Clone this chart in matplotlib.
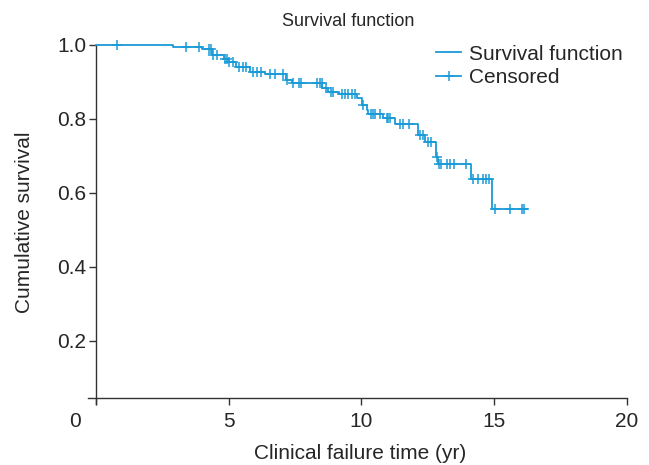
import numpy as np
import matplotlib
matplotlib.use("Agg")
import matplotlib.pyplot as plt
from matplotlib.lines import Line2D
from matplotlib.transforms import ScaledTranslation

plt.rcParams['font.family'] = ['Liberation Sans', 'DejaVu Sans']

# ---- data ----
event_times = [2.89, 3.98, 4.38, 4.82, 4.98, 5.27, 5.80, 6.37, 7.14, 7.37,
               8.53, 8.75, 9.16, 9.84, 10.01, 10.19, 10.26, 10.82, 11.26,
               12.13, 12.41, 12.81, 12.87, 14.11, 14.90]
survival = [0.994, 0.988, 0.973, 0.962, 0.955, 0.941, 0.928, 0.921, 0.905, 0.896,
            0.885, 0.874, 0.867, 0.856, 0.838, 0.824, 0.8135, 0.804, 0.787,
            0.758, 0.739, 0.698, 0.678, 0.639, 0.557]
end_time = 16.22
censor_times = [0.78, 3.38, 3.87, 4.27, 4.33, 4.42, 4.55, 4.86, 4.92, 5.02, 5.17,
                5.40, 5.55, 5.64, 5.92, 6.08, 6.21, 6.55, 6.74, 7.05, 7.21,
                7.43, 7.65, 7.71, 8.34, 8.44, 8.50, 8.66, 8.85, 8.93,
                9.25, 9.38, 9.50, 9.63, 9.76, 10.05, 10.35, 10.44, 10.51, 10.70,
                10.95, 11.01, 11.07, 11.45, 11.57, 11.80, 12.20, 12.33,
                12.52, 12.61, 12.84, 12.93, 12.98, 13.23, 13.33, 13.48, 13.94,
                14.21, 14.40, 14.59, 14.69, 14.81, 15.03, 15.59, 16.03, 16.12]
x_ticks = [0, 5, 10, 15, 20]
x_tick_labels = ['0', '5', '10', '15', '20']
y_ticks = [0.2, 0.4, 0.6, 0.8, 1.0]
y_tick_labels = ['0.2', '0.4', '0.6', '0.8', '1.0']

blue = '#1a9bd7'
text_c = '#262626'
axis_c = '#333333'

fig = plt.figure(figsize=(6.49, 4.65), dpi=100)
ax = fig.add_axes([88/649, 1 - 403.9/465, 539/649, (403.9 - 45)/465])

step_x = [0.0] + event_times + [end_time]
step_y = [1.0] + survival + [survival[-1]]
ax.step(step_x, step_y, where='post', color=blue, lw=1.3, clip_on=False, zorder=3)

s_arr = np.array([1.0] + survival)
idx = np.searchsorted(np.array(event_times), np.array(censor_times), side='right')
censor_y = s_arr[idx]
ax.plot(censor_times, censor_y, ls='none', marker='+', ms=7, mew=1.1,
        color=blue, clip_on=False, zorder=4)

ax.set_xlim(-0.3, 20)
ax.set_ylim(0.03, 1.0)
for s in ['top', 'right']:
    ax.spines[s].set_visible(False)
ax.spines['left'].set_position(('data', 0))
ax.spines['bottom'].set_position(('data', 0.046))
for s in ['left', 'bottom']:
    ax.spines[s].set_color(axis_c)
    ax.spines[s].set_linewidth(1.0)

ax.set_xticks(x_ticks)
ax.set_xticklabels(x_tick_labels)
ax.set_yticks(y_ticks)
ax.set_yticklabels(y_tick_labels)
ax.tick_params(axis='both', direction='out', length=5, width=1.0, color=axis_c,
               labelsize=15, labelcolor=text_c)
ax.tick_params(axis='x', pad=5)
ax.tick_params(axis='y', pad=2)

# the "0" label sits left of its tick in the reference
lab0 = ax.get_xticklabels()[0]
lab0.set_transform(lab0.get_transform() + ScaledTranslation(-21/100, 0, fig.dpi_scale_trans))

fig.text(348/649, 1 - 21/465, 'Survival function', ha='center', va='center',
         fontsize=13, color=text_c)
fig.text(360/649, 1 - 453/465, 'Clinical failure time (yr)', ha='center', va='center',
         fontsize=15, color=text_c)
fig.text(25/649, 1 - 222/465, 'Cumulative survival', ha='center', va='center',
         rotation=90, fontsize=15, color=text_c)

handles = [Line2D([], [], color=blue, lw=1.3),
           Line2D([], [], color=blue, lw=1.3, marker='+', ms=7, mew=1.1)]
fig.legend(handles, ['Survival function', 'Censored'], loc='center left',
           bbox_to_anchor=(436/649, 1 - 65.8/465), frameon=False, fontsize=15,
           handlelength=1.22, handletextpad=0.35, labelspacing=0.2,
           borderpad=0, borderaxespad=0, labelcolor=text_c)

fig.savefig('out.png', dpi=100)
